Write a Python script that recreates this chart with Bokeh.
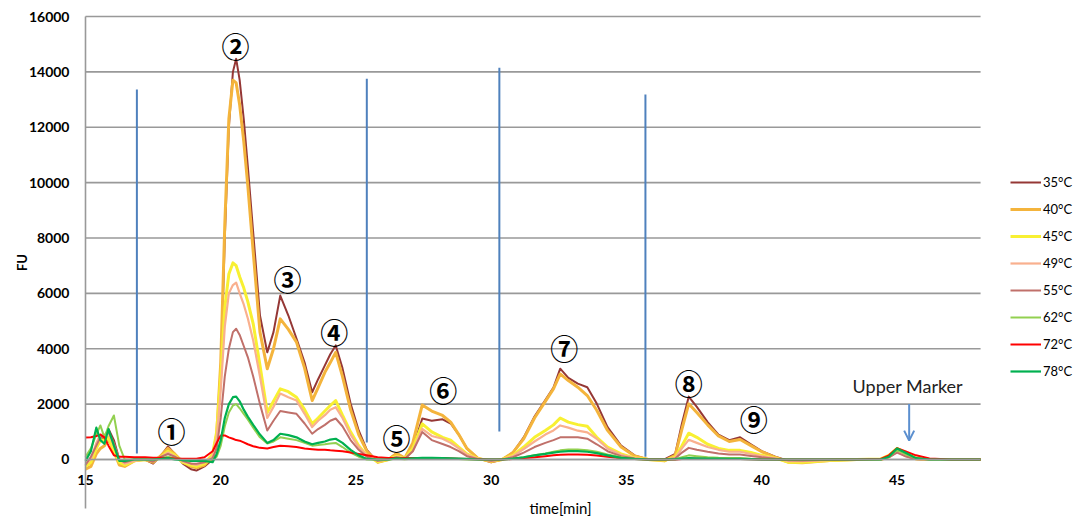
from bokeh.plotting import figure
from bokeh.models import Range1d, FixedTicker, Label, Arrow, OpenHead, ColumnDataSource
from bokeh.core.properties import value
from bokeh.embed import file_html
from bokeh.resources import INLINE

# ---------------- data ----------------
time_min = [15.0, 15.2, 15.4, 15.55, 15.7, 15.85, 16.05, 16.25, 16.45, 16.8, 17.2, 17.5, 17.8, 18.05,
            18.3, 18.6, 18.9, 19.1, 19.4, 19.7, 19.85, 20.0, 20.15, 20.3, 20.45, 20.57, 20.7, 20.85,
            21.0, 21.2, 21.45, 21.72, 21.95, 22.2, 22.5, 22.8, 23.1, 23.38, 23.6, 23.85, 24.05, 24.25,
            24.5, 24.8, 25.1, 25.4, 25.8, 26.2, 26.5, 26.8, 27.1, 27.45, 27.8, 28.2, 28.5, 28.8, 29.1,
            29.5, 30.0, 30.4, 30.8, 31.2, 31.6, 32.0, 32.3, 32.55, 32.85, 33.2, 33.55, 33.9, 34.3, 34.8,
            35.3, 35.8, 36.4, 36.8, 37.05, 37.3, 37.6, 38.0, 38.4, 38.8, 39.2, 39.6, 40.0, 40.5, 41.0,
            41.5, 42.5, 43.5, 44.4, 44.7, 45.0, 45.3, 45.7, 46.2, 47.0, 48.09]

fu_35 = [-230, -100, 500, 700, 800, 1100, 700, 0, -150, -50, 0, -150, 150, 470,
         200, -150, -350, -400, -250, 0, 600, 3000, 8000, 12000, 14000, 14470, 13700, 12300,
         10600, 8200, 5200, 3870, 4600, 5920, 5200, 4370, 3500, 2430, 2900, 3400, 3800, 4120,
         3300, 2020, 1050, 350, -100, 0, 230, 50, 400, 1480, 1400, 1450, 1300, 900, 400,
         50, -100, 0, 250, 800, 1550, 2150, 2600, 3280, 2950, 2740, 2610, 2020, 1170, 500,
         150, 0, 0, 200, 1300, 2270, 1900, 1350, 900, 700, 800, 550, 300, 100, -50,
         -80, -20, 0, 0, 100, 300, 150, 20, 0, 0, 0]
fu_40 = [-350, -250, 200, 400, 500, 750, 300, -200, -250, -50, 0, -100, 150, 400,
         200, -100, -250, -300, -200, 100, 900, 3500, 8500, 12300, 13700, 13600, 12800, 11500,
         9900, 7500, 4600, 3280, 4000, 5080, 4700, 4240, 3300, 2130, 2600, 3150, 3500, 3870,
         3000, 1800, 900, 300, -100, 0, 220, 50, 600, 1970, 1750, 1590, 1350, 900, 400,
         50, -80, 0, 250, 750, 1500, 2100, 2550, 3090, 2850, 2610, 2310, 1780, 1050, 450,
         130, 0, -50, 150, 1100, 2010, 1700, 1250, 850, 650, 720, 500, 280, 80, -100,
         -120, -40, 0, 0, 100, 300, 150, 20, 0, 0, 0]
fu_45 = [-250, -100, 400, 700, 700, 800, 300, -100, -200, -50, 0, -50, 100, 300,
         150, -100, -200, -250, -150, 200, 1000, 3000, 5500, 6700, 7100, 7000, 6600, 6200,
         5700, 4900, 3400, 1700, 2100, 2550, 2450, 2250, 1800, 1290, 1500, 1750, 1950, 2130,
         1600, 1000, 500, 150, -80, 0, 120, 30, 400, 1290, 1000, 800, 700, 450, 200,
         30, -50, 0, 150, 450, 800, 1050, 1250, 1500, 1350, 1260, 1200, 800, 450, 200,
         60, 0, -30, 80, 500, 950, 800, 550, 400, 330, 330, 250, 150, 50, -100,
         -100, -40, 0, 20, 150, 400, 250, 50, 0, 0, 0]
fu_49 = [-150, 0, 600, 900, 900, 950, 500, 0, -150, -50, 0, -50, 100, 250,
         120, -80, -150, -200, -100, 100, 800, 2500, 4800, 6000, 6300, 6390, 6000, 5600,
         5100, 4300, 3000, 1500, 1900, 2380, 2250, 2130, 1650, 1170, 1400, 1600, 1800, 1890,
         1500, 900, 450, 150, -50, 0, 100, 30, 300, 1110, 850, 750, 600, 400, 180,
         30, -50, 0, 120, 380, 650, 900, 1050, 1230, 1150, 1040, 980, 750, 400, 170,
         50, 0, -20, 60, 400, 710, 600, 450, 350, 280, 280, 200, 120, 40, -60,
         -60, -20, 0, 10, 100, 300, 150, 30, 0, 0, 0]
fu_55 = [-200, 100, 500, 800, 850, 1000, 600, 0, -100, 0, 0, -80, 100, 200,
         100, -50, -150, -150, -100, 50, 400, 1500, 3000, 4000, 4600, 4720, 4500, 4100,
         3700, 3000, 2000, 1050, 1400, 1750, 1700, 1650, 1300, 930, 1100, 1250, 1400, 1480,
         1200, 700, 350, 100, -50, 0, 80, 20, 300, 990, 700, 560, 450, 300, 120,
         20, -50, 0, 80, 250, 450, 600, 700, 800, 800, 800, 750, 550, 300, 120,
         40, 0, 0, 40, 250, 420, 350, 280, 220, 180, 180, 130, 80, 30, -30,
         -40, -10, 0, 0, 80, 250, 120, 20, 0, 0, 0]
fu_62 = [100, 400, 900, 1230, 800, 1200, 1590, 500, 0, 0, 0, 0, 50, 100,
         50, 0, -50, -50, -30, 0, 100, 500, 1200, 1700, 1950, 2000, 1850, 1650,
         1450, 1150, 800, 580, 650, 800, 750, 700, 600, 500, 520, 550, 580, 600,
         450, 250, 100, 0, 0, 0, 30, 10, 30, 50, 50, 40, 30, 20, 0,
         0, 0, 0, 30, 80, 150, 220, 280, 330, 360, 360, 330, 280, 180, 80,
         20, 0, 0, 10, 80, 150, 120, 80, 60, 50, 50, 30, 20, 0, 0,
         0, 0, 0, 0, 100, 350, 200, 50, 0, 0, 0]
fu_72 = [790, 800, 850, 900, 800, 500, 150, 100, 100, 80, 80, 60, 60, 50,
         40, 30, 30, 30, 80, 300, 600, 870, 870, 800, 750, 700, 680, 620,
         550, 480, 420, 400, 450, 500, 480, 450, 400, 370, 350, 350, 330, 320,
         300, 250, 200, 150, 80, 50, 50, 50, 50, 50, 50, 50, 40, 30, 20,
         10, 0, 0, 20, 50, 80, 120, 150, 170, 180, 180, 170, 140, 100, 50,
         20, 0, 0, 0, 20, 30, 30, 20, 20, 20, 20, 10, 0, 0, 0,
         0, 0, 0, 20, 150, 410, 300, 150, 40, 0, 0]
fu_78 = [-50, 300, 1150, 700, 570, 1100, 500, -50, -50, 0, 0, 0, 20, 50,
         0, -20, -50, -50, -50, -100, 200, 700, 1500, 2000, 2250, 2270, 2100, 1800,
         1550, 1250, 900, 600, 700, 930, 880, 800, 650, 550, 600, 650, 720, 750,
         600, 350, 150, 20, 0, 0, 40, 20, 40, 60, 60, 50, 40, 30, 20,
         0, 0, 0, 30, 80, 150, 200, 250, 280, 300, 300, 280, 230, 150, 60,
         20, 0, 0, 10, 30, 50, 40, 30, 30, 20, 20, 10, 0, 0, 0,
         0, 0, 0, 0, 100, 400, 250, 50, 0, 0, 0]

series_names = ["35°C", "40°C", "45°C", "49°C", "55°C", "62°C", "72°C", "78°C"]
series_values = [fu_35, fu_40, fu_45, fu_49, fu_55, fu_62, fu_72, fu_78]

y_ticks = [0, 2000, 4000, 6000, 8000, 10000, 12000, 14000, 16000]
x_ticks = [15, 20, 25, 30, 35, 40, 45]

# fraction boundaries (blue vertical lines)
divider_x = [16.9, 25.4, 30.3, 35.7]
divider_bottom = [215, 610, 1010, 100]
divider_top = [13360, 13750, 14150, 13180]

# circled peak labels
peak_labels = ["①", "②", "③", "④", "⑤", "⑥", "⑦", "⑧", "⑨"]
peak_x = [18.18, 20.55, 22.47, 24.2, 26.5, 28.23, 32.7, 37.3, 39.7]
peak_y = [1047, 14950, 6535, 4620, 794, 2527, 4043, 2780, 1480]

marker_x = 45.45
marker_top = 2000
marker_bottom = 680

# ---------------- styles ----------------
colors = ["#953735", "#F4B43C", "#F8F032", "#F9B08E", "#C0706A", "#92D050", "#FF0000", "#00B050"]
widths = [2, 3, 3, 2.2, 2, 2, 2, 2.2]
FONT = "Lato"
GRID = "#999999"

X_MIN, X_MAX = 15, 48.09          # plotted time window
Y_MIN, Y_MAX = -1760, 16000       # plotted FU window

p = figure(width=1076, height=516, output_backend="svg", toolbar_location=None,
           x_range=Range1d(11.858, 51.636), y_range=Range1d(-2059, 16578),
           min_border_left=0, min_border_right=0, min_border_top=0, min_border_bottom=0)
p.outline_line_color = None
p.background_fill_color = "white"
p.border_fill_color = "white"
p.xgrid.grid_line_color = None
p.ygrid.grid_line_color = None

# horizontal grid lines across the plotting window
p.segment(x0=[X_MIN] * len(y_ticks), x1=[X_MAX] * len(y_ticks), y0=y_ticks, y1=y_ticks,
          line_color=GRID, line_width=1.6)

for name, vals, c, w in zip(series_names, series_values, colors, widths):
    p.line(time_min, vals, line_color=c, line_width=w, legend_label=name, line_join="round")

# blue divider lines
p.segment(x0=divider_x, y0=divider_bottom, x1=divider_x, y1=divider_top,
          line_color="#4F81BD", line_width=2)

# y axis anchored at t = 15
p.yaxis.fixed_location = X_MIN
p.yaxis.bounds = (Y_MIN, Y_MAX)
p.yaxis.ticker = FixedTicker(ticks=y_ticks)
p.yaxis.axis_label = "FU"
p.yaxis.axis_label_text_font = FONT
p.yaxis.axis_label_text_font_style = "bold"
p.yaxis.axis_label_text_font_size = "13px"
p.yaxis.axis_label_text_color = "#000000"
p.yaxis.axis_label_standoff = -4
p.yaxis.major_label_text_font = FONT
p.yaxis.major_label_text_font_style = "bold"
p.yaxis.major_label_text_font_size = "14px"
p.yaxis.major_label_text_color = "#000000"
p.yaxis.major_label_standoff = 10
p.yaxis.major_tick_line_color = None
p.yaxis.minor_tick_line_color = None
p.yaxis.axis_line_color = GRID
p.yaxis.axis_line_width = 1.6

# x axis drawn along FU = 0
p.xaxis.fixed_location = 0
p.xaxis.bounds = (X_MIN, X_MAX)
p.xaxis.ticker = FixedTicker(ticks=x_ticks)
p.xaxis.major_label_text_font = FONT
p.xaxis.major_label_text_font_style = "bold"
p.xaxis.major_label_text_font_size = "14px"
p.xaxis.major_label_text_color = "#000000"
p.xaxis.major_label_standoff = 10
p.xaxis.major_tick_line_color = None
p.xaxis.minor_tick_line_color = None
p.xaxis.axis_line_color = GRID
p.xaxis.axis_line_width = 1.6

p.add_layout(Label(x=32.56, y=Y_MIN, text="time[min]", text_align="center", text_baseline="middle",
                   text_font=FONT, text_font_size="15px", text_color="#000000"))

# peak labels
src = ColumnDataSource(dict(x=peak_x, y=peak_y, t=peak_labels))
p.text(x="x", y="y", text="t", source=src, text_align="center", text_baseline="middle",
       text_font=value("Noto Sans CJK JP"), text_font_size="28px", text_font_style="bold",
       text_color="#000000")

# upper marker
p.add_layout(Label(x=marker_x - 0.05, y=marker_top + 650, text="Upper Marker", text_align="center",
                   text_baseline="middle", text_font=FONT, text_font_size="18px",
                   text_color="#222222"))
p.add_layout(Arrow(x_start=marker_x, y_start=marker_top, x_end=marker_x, y_end=marker_bottom,
                   line_color="#5B8FCF", line_width=2,
                   end=OpenHead(size=10, line_color="#5B8FCF", line_width=2)))

# legend
lg = p.legend[0]
lg.location = (1010, 135)
lg.padding = 0
lg.margin = 0
lg.spacing = 7
lg.glyph_width = 31
lg.glyph_height = 20
lg.label_height = 20
lg.label_standoff = 2
lg.label_text_font = FONT
lg.label_text_font_size = "13px"
lg.label_text_color = "#000000"
lg.border_line_color = None
lg.background_fill_alpha = 0

open("out.html", "w").write(file_html(p, INLINE))
